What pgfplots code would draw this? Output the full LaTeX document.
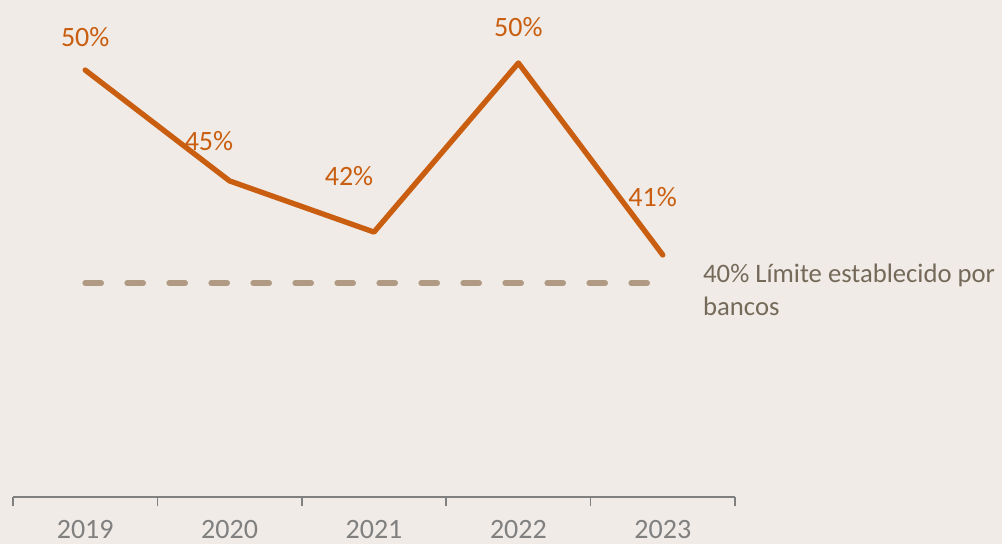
\documentclass[border=0pt]{standalone}
\usepackage{pgfplots}
\pgfplotsset{compat=1.18}
\usepackage{fontspec}
\setmainfont{Carlito}

\definecolor{bg}{HTML}{F0EBE6}
\definecolor{linecol}{HTML}{C95E10}
\definecolor{limcol}{HTML}{B09A84}
\definecolor{axcol}{HTML}{808080}
\definecolor{notecol}{HTML}{756A5A}

\begin{document}
\begin{tikzpicture}
% fondo del tamaño de la imagen (1 px = 0.75pt)
\fill[bg] (0,0) rectangle (751.5pt,408pt);
\begin{axis}[
    at={(9.75pt,35.25pt)}, anchor=south west,
    scale only axis,
    width=541.5pt, height=369.15pt,
    xmin=-0.5, xmax=4.5,
    ymin=30, ymax=53,
    clip=false,
    axis y line=none,
    axis x line=bottom,
    x axis line style={-, draw=axcol, line width=1.1pt},
    xtick={0,1,2,3,4},
    xticklabels={2019,2020,2021,2022,2023},
    major tick length=0pt,
    minor xtick={-0.5,0.5,1.5,2.5,3.5,4.5},
    minor tick length=7pt,
    tick align=outside,
    minor tick style={draw=axcol, line width=1.1pt},
    xticklabel style={text=axcol, font=\fontsize{21}{25}\selectfont, anchor=base, yshift=-31pt},
    /pgf/number format/assume math mode=true,
]
% límite 40%
\addplot[limcol, line width=4.2pt, line cap=round, dash pattern=on 12pt off 19.5pt]
    coordinates {(0,40) (3.92,40)};
% ratio
\addplot[linecol, line width=4pt, line cap=round, line join=round]
    coordinates {(0,49.95) (1,44.77) (2,42.38) (3,50.28) (4,41.31)};

\node[text=linecol, font=\fontsize{21}{25}\selectfont] at (axis cs:0,51.5) {50\%};
\node[text=linecol, font=\fontsize{21}{25}\selectfont] at (axis cs:0.857,46.65) {45\%};
\node[text=linecol, font=\fontsize{21}{25}\selectfont] at (axis cs:1.827,45.0) {42\%};
\node[text=linecol, font=\fontsize{21}{25}\selectfont] at (axis cs:3,51.97) {50\%};
\node[text=linecol, font=\fontsize{21}{25}\selectfont] at (axis cs:3.93,44.02) {41\%};

\node[text=notecol, font=\fontsize{20}{24.75}\selectfont, anchor=west, align=left, inner sep=0pt]
    at (axis cs:4.278,39.68) {40\% Límite establecido por\\bancos};
\end{axis}
\end{tikzpicture}
\end{document}
